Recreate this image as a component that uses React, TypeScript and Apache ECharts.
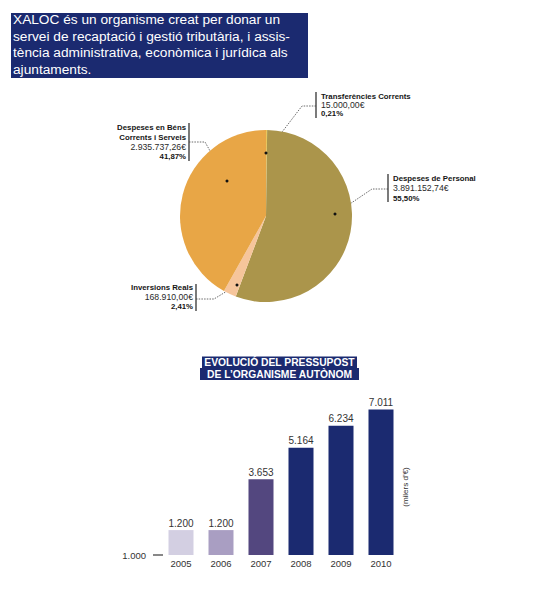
import React, { useEffect, useRef } from "react";
import * as echarts from "echarts";

// ---------- data ----------
const introText =
  "XALOC és un organisme creat per donar un\nservei de recaptació i gestió tributària, i assis-\ntència administrativa, econòmica i jurídica als\najuntaments.";

const pieNames = [
  "Transferències Corrents",
  "Despeses de Personal",
  "Inversions Reals",
  "Despeses en Béns\nCorrents i Serveis",
];
const pieValues = [15000.0, 3891152.74, 168910.0, 2935737.26];
const pieColors = ["#e9c75c", "#ab954b", "#f6c59b", "#e8a646"];

const barTitle = ["EVOLUCIÓ DEL PRESSUPOST", "DE L’ORGANISME AUTÒNOM"];
const years = ["2005", "2006", "2007", "2008", "2009", "2010"];
const budget = [1200, 1200, 3653, 5164, 6234, 7011];
const barColors = ["#d3cfe2", "#a99ec2", "#53477f", "#1b2a70", "#1b2a70", "#1b2a70"];
const yBaseLabel = "1.000";
const unitLabel = "(milers d’€)";

// ---------- helpers ----------
const groupThousands = (s: string) => s.replace(/\B(?=(\d{3})+(?!\d))/g, ".");
const fmtEuro = (v: number) => {
  const [i, d] = v.toFixed(2).split(".");
  return groupThousands(i) + "," + d + "€";
};
const fmtInt = (v: number) => groupThousands(String(Math.round(v)));
const total = pieValues.reduce((a, b) => a + b, 0);
const fmtPct = (v: number) => ((v / total) * 100).toFixed(2).replace(".", ",") + "%";

// annotation layout (positions only)
type Ann = {
  side: "left" | "right";
  barX: number;
  barTop: number;
  barBottom: number;
  textTop: number;
  lineH: number;
  leader: number[][];
};
const annLayout: Ann[] = [
  { side: "right", barX: 316, barTop: 92, barBottom: 118, textTop: 92, lineH: 8.4, leader: [[316, 106], [302, 106], [266, 153]] },
  { side: "right", barX: 388, barTop: 174, barBottom: 202, textTop: 174, lineH: 9.6, leader: [[388, 189], [372, 189], [335, 214]] },
  { side: "left", barX: 196, barTop: 284, barBottom: 311, textTop: 283, lineH: 9.5, leader: [[196, 299], [214, 299], [237, 285]] },
  { side: "left", barX: 189, barTop: 123, barBottom: 161, textTop: 122.5, lineH: 9.7, leader: [[189, 142], [205, 142], [227, 181]] },
];

const FONT = "'Liberation Sans', Arial, sans-serif";
const NAVY = "#1b2a70";

export default function App() {
  const ref = useRef<HTMLDivElement>(null);
  useEffect(() => {
    if (!ref.current) return;
    const chart = echarts.init(ref.current, undefined, { renderer: "svg" });

    const annGraphics: any[] = [];
    pieNames.forEach((name, i) => {
      const L = annLayout[i];
      const lines = name.split("\n").map((l) => `{b|${l}}`);
      lines.push(`{r|${fmtEuro(pieValues[i])}}`);
      lines.push(`{b|${fmtPct(pieValues[i])}}`);
      const rich = {
        b: { fontFamily: FONT, fontWeight: "bold", fontSize: 7.8, lineHeight: L.lineH, fill: "#151515" },
        r: { fontFamily: FONT, fontSize: 8.7, lineHeight: L.lineH, fill: "#2a2a2a" },
      };
      annGraphics.push({
        type: "text",
        x: L.side === "right" ? L.barX + 5 : L.barX - 3,
        y: L.textTop,
        style: {
          text: lines.join("\n"),
          rich,
          align: L.side === "right" ? "left" : "right",
          verticalAlign: "top",
        },
      });
      annGraphics.push({
        type: "line",
        shape: { x1: L.barX, y1: L.barTop, x2: L.barX, y2: L.barBottom },
        style: { stroke: "#222", lineWidth: 1.2 },
      });
      annGraphics.push({
        type: "polyline",
        shape: { points: L.leader },
        style: { stroke: "#444", lineWidth: 0.8, lineDash: [1.5, 1.2], fill: null },
      });
      const end = L.leader[L.leader.length - 1];
      annGraphics.push({
        type: "circle",
        shape: { cx: end[0], cy: end[1], r: 1.5 },
        style: { fill: "#111" },
        z: 10,
      });
    });

    chart.setOption({
      animation: false,
      textStyle: { fontFamily: FONT },
      grid: { left: 161, width: 240, top: 389, height: 166 },
      xAxis: {
        type: "category",
        data: years,
        axisLine: { show: false },
        axisTick: { show: false },
        axisLabel: { color: "#333", fontSize: 9.5, margin: 3, fontFamily: FONT },
      },
      yAxis: {
        type: "value",
        min: 0,
        max: 8000,
        offset: -2,
        splitLine: { show: false },
        axisLine: { show: false },
        axisTick: {
          show: true,
          customValues: [0],
          length: 10,
          lineStyle: { color: "#888", width: 2 },
        },
        axisLabel: {
          show: true,
          customValues: [0],
          formatter: () => yBaseLabel,
          color: "#333",
          fontSize: 9.5,
          margin: 17,
          fontFamily: FONT,
        },
      },
      series: [
        {
          type: "pie",
          center: [266, 216],
          radius: 86,
          startAngle: 90,
          clockwise: true,
          label: { show: false },
          labelLine: { show: false },
          emphasis: { disabled: true },
          data: pieNames.map((n, i) => ({
            name: n,
            value: pieValues[i],
            itemStyle: { color: pieColors[i] },
          })),
        },
        {
          type: "bar",
          barWidth: 25,
          data: budget.map((v, i) => ({ value: v, itemStyle: { color: barColors[i] } })),
          label: {
            show: true,
            position: "top",
            distance: 2,
            color: "#333",
            fontSize: 10,
            fontFamily: FONT,
            formatter: (p: any) => fmtInt(p.value),
          },
        },
      ],
      graphic: [
        { type: "rect", shape: { x: 11, y: 13, width: 297, height: 65 }, style: { fill: NAVY } },
        {
          type: "text",
          x: 13,
          y: 11.5,
          style: {
            text: introText,
            fill: "#fff",
            fontFamily: FONT,
            fontSize: 13.7,
            lineHeight: 16.5,
            verticalAlign: "top",
          },
        },
        { type: "rect", shape: { x: 202, y: 356.5, width: 155, height: 12 }, style: { fill: NAVY } },
        { type: "rect", shape: { x: 200, y: 368, width: 159, height: 12 }, style: { fill: NAVY } },
        {
          type: "text",
          x: 279.5,
          y: 356,
          style: {
            text: barTitle.join("\n"),
            fill: "#fff",
            fontFamily: FONT,
            fontWeight: "bold",
            fontSize: 10.3,
            lineHeight: 12,
            align: "center",
            verticalAlign: "top",
          },
        },
        {
          type: "text",
          x: 405,
          y: 487,
          rotation: Math.PI / 2,
          style: {
            text: unitLabel,
            fill: "#333",
            fontFamily: FONT,
            fontSize: 8,
            align: "center",
            verticalAlign: "middle",
          },
        },
        ...annGraphics,
      ],
    });
    return () => chart.dispose();
  }, []);
  return (
    <div
      ref={ref}
      style={{ position: "fixed", left: 0, top: 0, width: 550, height: 600, background: "#fff" }}
    />
  );
}
